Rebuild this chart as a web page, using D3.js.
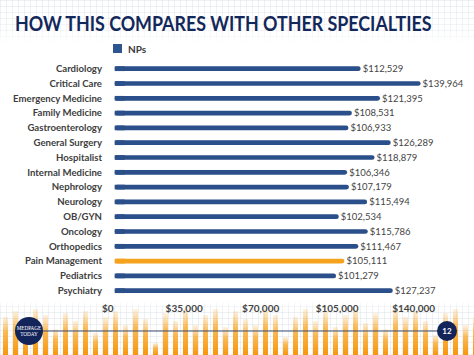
<!DOCTYPE html>
<html><head><meta charset="utf-8">
<script src="https://cdn.jsdelivr.net/npm/d3@7"></script>
<style>body{margin:0;background:#fff}svg{display:block}</style>
</head><body>
<script>
const categories = ["Cardiology","Critical Care","Emergency Medicine","Family Medicine","Gastroenterology","General Surgery","Hospitalist","Internal Medicine","Nephrology","Neurology","OB/GYN","Oncology","Orthopedics","Pain Management","Pediatrics","Psychiatry"];
const values = [112529,139964,121395,108531,106933,126289,118879,106346,107179,115494,102534,115786,111467,105111,101279,127237];
const highlight = "Pain Management";
const tickValues = [0,35000,70000,105000,140000];
const seriesName = "NPs";
const decoHeights = [38,44,30,46,40,26,42,34,44,22,38,44,30,46,36,12,42,34,46,30,40,46,28,44,36,30,46,40,18,38,46,34,44,28,40,46,32,42,26,46,38,44,34,20,42,46,30,38];

const W=474,H=355, FONT="Lato";
const svg=d3.select("body").append("svg").attr("width",W).attr("height",H);
const defs=svg.append("defs");

// grid pattern
const pat=defs.append("pattern").attr("id","grid").attr("width",6).attr("height",6).attr("patternUnits","userSpaceOnUse");
pat.append("path").attr("d","M6 0 L0 0 0 6").attr("fill","none").attr("stroke","#d6dce5").attr("stroke-width",0.8);
const fadeTop=defs.append("linearGradient").attr("id","fadeTop").attr("x1",0).attr("y1",0).attr("x2",0).attr("y2",1);
fadeTop.append("stop").attr("offset","0%").attr("stop-color","#fff").attr("stop-opacity",0);
fadeTop.append("stop").attr("offset","70%").attr("stop-color","#fff").attr("stop-opacity",0.3);
fadeTop.append("stop").attr("offset","100%").attr("stop-color","#fff").attr("stop-opacity",1);
svg.append("rect").attr("x",0).attr("y",0).attr("width",W).attr("height",44).attr("fill","url(#grid)");
svg.append("rect").attr("x",0).attr("y",0).attr("width",W).attr("height",44).attr("fill","url(#fadeTop)");

// footer decoration
const og=defs.append("linearGradient").attr("id","og").attr("x1",0).attr("y1",0).attr("x2",0).attr("y2",1);
og.append("stop").attr("offset","0%").attr("stop-color","#fbb040").attr("stop-opacity",0.15);
og.append("stop").attr("offset","40%").attr("stop-color","#f9a21c").attr("stop-opacity",0.75);
og.append("stop").attr("offset","100%").attr("stop-color","#f7960c").attr("stop-opacity",1);
svg.append("rect").attr("x",0).attr("y",302).attr("width",W).attr("height",53).attr("fill","url(#grid)");
const deco=svg.append("g");
decoHeights.forEach((h,i)=>{
  deco.append("rect").attr("x",i*10+3).attr("y",H-h).attr("width",5).attr("height",h).attr("fill","url(#og)");
});
const fadeBot=defs.append("linearGradient").attr("id","fadeBot").attr("x1",0).attr("y1",0).attr("x2",0).attr("y2",1);
fadeBot.append("stop").attr("offset","0%").attr("stop-color","#fff").attr("stop-opacity",1);
fadeBot.append("stop").attr("offset","100%").attr("stop-color","#fff").attr("stop-opacity",0);
svg.append("rect").attr("x",0).attr("y",298).attr("width",W).attr("height",12).attr("fill","url(#fadeBot)");

// title (horizontally scaled to fit 417px like the condensed original)
const title=svg.append("text").attr("x",0).attr("y",0)
  .attr("font-family",FONT).attr("font-weight",700).attr("font-size",20).attr("fill","#13285a")
  .text("HOW THIS COMPARES WITH OTHER SPECIALTIES");
const tw=title.node().getComputedTextLength();
const k=tw>0?Math.min(1,417/tw):1;
title.attr("transform",`translate(15,31) scale(${k},1)`);

// legend
svg.append("rect").attr("x",113).attr("y",44).attr("width",9).attr("height",9).attr("fill","#2d5590");
svg.append("text").attr("x",128).attr("y",52.5).attr("font-family",FONT).attr("font-size",10).attr("font-weight",700).attr("fill","#3a3a3a").text(seriesName);

// scales
const x=d3.scaleLinear().domain([0,140000]).range([114.7,420.7]);
const y=d3.scaleBand().domain(categories).range([61.3,298.1]).paddingInner(0.68).paddingOuter(0.34);

const bh=y.bandwidth();
svg.append("g").selectAll("rect").data(categories).join("rect")
  .attr("x",x(0)).attr("y",d=>y(d)).attr("width",(d,i)=>x(values[i])-x(0)).attr("height",bh)
  .attr("rx",bh/2).attr("fill",d=>d===highlight?"#f5a21f":"#2b4f8a");
svg.append("g").selectAll("rect").data(categories).join("rect")
  .attr("x",x(0)).attr("y",d=>y(d)).attr("width",10).attr("height",bh)
  .attr("fill",d=>d===highlight?"#f5a21f":"#2b4f8a");

const fmt=d3.format("$,");
svg.append("g").selectAll("text").data(categories).join("text")
  .attr("x",(d,i)=>x(values[i])+2).attr("y",d=>y(d)+bh/2).attr("dy","0.35em")
  .attr("font-family",FONT).attr("font-size",9.5).attr("fill","#444")
  .text((d,i)=>fmt(values[i]));

// y labels
svg.append("g").selectAll("text").data(categories).join("text")
  .attr("x",102).attr("y",d=>y(d)+bh/2).attr("dy","0.35em").attr("text-anchor","end")
  .attr("font-family",FONT).attr("font-size",9.6).attr("font-weight",700).attr("fill","#404040")
  .text(d=>d);

// x axis
const ax=svg.append("g").attr("transform","translate(-7,0)");
ax.selectAll("text").data(tickValues).join("text")
  .attr("x",d=>x(d)).attr("y",312).attr("text-anchor","middle")
  .attr("font-family",FONT).attr("font-size",10).attr("font-weight",700).attr("fill","#444")
  .text(d=>fmt(d));

// footer line and badges
svg.append("line").attr("x1",30).attr("x2",447).attr("y1",331).attr("y2",331).attr("stroke","#3d4d6e").attr("stroke-width",1.2);
svg.append("circle").attr("cx",29).attr("cy",331).attr("r",14).attr("fill","#13245a");
svg.append("text").attr("x",29).attr("y",330).attr("text-anchor","middle").attr("font-family","Liberation Serif").attr("font-size",5.2).attr("fill","#fff").text("MEDPAGE");
svg.append("text").attr("x",29).attr("y",336).attr("text-anchor","middle").attr("font-family","Liberation Serif").attr("font-size",5.2).attr("fill","#fff").text("TODAY");
svg.append("circle").attr("cx",447).attr("cy",331).attr("r",10).attr("fill","#13245a");
svg.append("text").attr("x",447).attr("y",331).attr("dy","0.35em").attr("text-anchor","middle").attr("font-family",FONT).attr("font-weight",700).attr("font-size",8).attr("fill","#fff").text("12");
</script>
</body></html>
